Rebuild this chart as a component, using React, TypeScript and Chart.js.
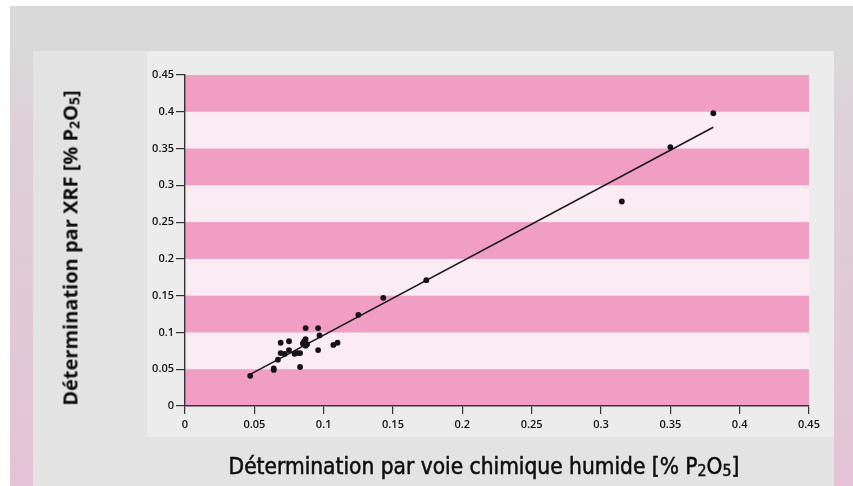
import React, { useEffect, useRef } from "react";
import { Chart, registerables } from "chart.js";

Chart.register(...registerables);

// Measured points (wet-chemistry % P2O5 vs XRF % P2O5)
const chemValues = [
  0.047, 0.064, 0.064, 0.067, 0.069, 0.069, 0.072, 0.075, 0.075, 0.079,
  0.081, 0.083, 0.083, 0.085, 0.086, 0.087, 0.087, 0.088, 0.087, 0.096,
  0.097, 0.096, 0.107, 0.110, 0.125, 0.143, 0.174, 0.315, 0.350, 0.381,
];
const xrfValues = [
  0.041, 0.051, 0.049, 0.063, 0.086, 0.072, 0.071, 0.088, 0.076, 0.071,
  0.072, 0.053, 0.072, 0.085, 0.088, 0.091, 0.106, 0.084, 0.082, 0.106,
  0.096, 0.076, 0.083, 0.086, 0.124, 0.147, 0.171, 0.278, 0.352, 0.398,
];

// Regression line end points
const fitX = [0.047, 0.381];
const fitY = [0.043, 0.379];

// Axis ticks
const tickValues = [0, 0.05, 0.1, 0.15, 0.2, 0.25, 0.3, 0.35, 0.4, 0.45];
const tickLabels = ["0", "0.05", "0.1", "0.15", "0.2", "0.25", "0.3", "0.35", "0.4", "0.45"];

// Horizontal background bands (dark pink); the rest is light pink
const darkBands = [
  [0, 0.05],
  [0.1, 0.15],
  [0.2, 0.25],
  [0.3, 0.35],
  [0.4, 0.45],
];

const bandsPlugin = {
  id: "bands",
  beforeDraw(chart: any) {
    const { ctx, chartArea, scales } = chart;
    const y = scales.y;
    ctx.save();
    ctx.fillStyle = "#fbebf3";
    ctx.fillRect(chartArea.left, chartArea.top, chartArea.right - chartArea.left, chartArea.bottom - chartArea.top);
    ctx.fillStyle = "#f09ec4";
    for (const [a, b] of darkBands) {
      const top = y.getPixelForValue(b);
      const bot = y.getPixelForValue(a);
      ctx.fillRect(chartArea.left, top, chartArea.right - chartArea.left, bot - top);
    }
    ctx.restore();
  },
};

const tickFont = { family: "'Open Sans', 'DejaVu Sans', sans-serif", size: 11, weight: 600 as any };

const subStyle = { fontSize: "0.7em", verticalAlign: "-0.15em" };

export default function App() {
  const ref = useRef<HTMLCanvasElement | null>(null);

  useEffect(() => {
    if (!ref.current) return;
    const chart = new Chart(ref.current, {
      type: "scatter",
      data: {
        datasets: [
          {
            type: "scatter",
            data: chemValues.map((x, i) => ({ x, y: xrfValues[i] })),
            pointRadius: 2.9,
            pointBackgroundColor: "#141414",
            pointBorderColor: "#141414",
            pointBorderWidth: 0,
          },
          {
            type: "line",
            data: fitX.map((x, i) => ({ x, y: fitY[i] })),
            borderColor: "#1a1a1a",
            borderWidth: 1.6,
            pointRadius: 0,
            showLine: true,
            fill: false,
          } as any,
        ],
      },
      options: {
        animation: false,
        responsive: false,
        devicePixelRatio: 1,
        layout: { padding: { left: 140, right: 44, top: 75, bottom: 0 } },
        plugins: { legend: { display: false }, tooltip: { enabled: false } },
        scales: {
          x: {
            type: "linear",
            min: 0,
            max: 0.45,
            afterBuildTicks: (scale: any) => {
              scale.ticks = tickValues.map((v) => ({ value: v }));
            },
            afterFit: (scale: any) => {
              scale.height = 80;
            },
            ticks: {
              autoSkip: false,
              maxRotation: 0,
              padding: 4,
              color: "#111111",
              font: tickFont,
              callback: (_v: any, i: number) => tickLabels[i],
            },
            grid: { drawOnChartArea: false, drawTicks: true, tickLength: 8, color: "#333333", lineWidth: 1.2 },
            border: { display: true, color: "#333333", width: 1.4 },
          },
          y: {
            type: "linear",
            min: 0,
            max: 0.45,
            afterBuildTicks: (scale: any) => {
              scale.ticks = tickValues.map((v) => ({ value: v }));
            },
            afterFit: (scale: any) => {
              scale.width = 45;
            },
            ticks: {
              autoSkip: false,
              padding: 2,
              color: "#111111",
              font: tickFont,
              callback: (_v: any, i: number) => tickLabels[i],
            },
            grid: { drawOnChartArea: false, drawTicks: true, tickLength: 9, color: "#333333", lineWidth: 1.2 },
            border: { display: true, color: "#333333", width: 1.4 },
          },
        },
      },
      plugins: [bandsPlugin],
    });
    return () => chart.destroy();
  }, []);

  return (
    <div style={{ position: "fixed", left: 0, top: 0, width: 853, height: 486, background: "#ffffff", overflow: "hidden" }}>
      {/* outer frame */}
      <div
        style={{
          position: "absolute",
          left: 10,
          top: 6,
          width: 843,
          height: 480,
          background: "linear-gradient(to bottom, #d9d9d9 0px, #d9d9d9 45px, #ddd0d7 120px, #e4c4d6 480px)",
        }}
      />
      {/* inner panel */}
      <div style={{ position: "absolute", left: 33, top: 51, width: 801, height: 435, background: "#e3e3e3" }} />
      {/* plot backdrop */}
      <div style={{ position: "absolute", left: 147, top: 51, width: 687, height: 386, background: "#ececec" }} />
      <canvas ref={ref} width={853} height={486} style={{ position: "absolute", left: 0, top: 0, width: 853, height: 486 }} />
      {/* y title */}
      <div
        style={{
          position: "absolute",
          left: 71,
          top: 248,
          transform: "translate(-50%, -50%) rotate(-90deg)",
          whiteSpace: "nowrap",
          fontFamily: "'Open Sans', 'DejaVu Sans', sans-serif",
          fontWeight: 700,
          fontSize: 20,
          color: "#0d0d0d",
          lineHeight: 1,
        }}
      >
        Détermination par XRF [% P<sub style={subStyle}>2</sub>O<sub style={subStyle}>5</sub>]
      </div>
      {/* x title */}
      <div
        style={{
          position: "absolute",
          left: 484,
          top: 467,
          transform: "translate(-50%, -50%)",
          whiteSpace: "nowrap",
          fontFamily: "'DejaVu Sans Condensed', 'Liberation Sans Narrow', sans-serif",
          fontWeight: 400,
          fontSize: 22.5,
          color: "#0d0d0d",
          WebkitTextStroke: "0.5px #0d0d0d",
          lineHeight: 1,
        }}
      >
        Détermination par voie chimique humide [% P<sub style={subStyle}>2</sub>O<sub style={subStyle}>5</sub>]
      </div>
    </div>
  );
}
